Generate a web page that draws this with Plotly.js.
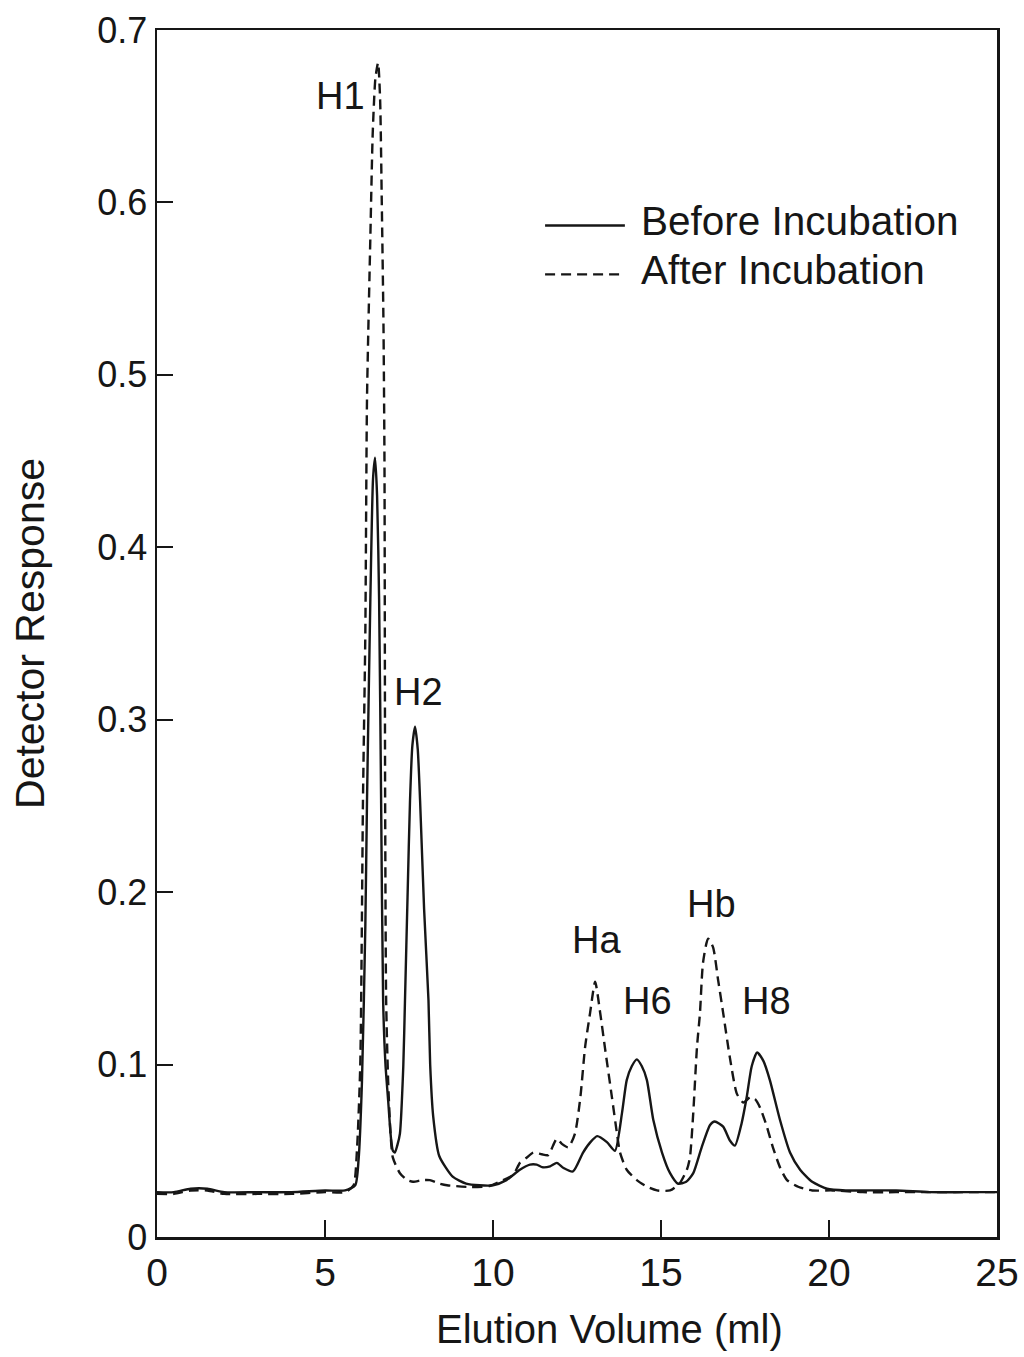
<!DOCTYPE html>
<html>
<head>
<meta charset="utf-8">
<script src="https://cdn.plot.ly/plotly-3.0.1.min.js"></script>
<style>html,body{margin:0;padding:0;background:#fff;}#chart{width:1024px;height:1357px;}</style>
</head>
<body>
<div id="chart"></div>
<script>
// Before Incubation (solid)
const beforeX = [0, 0.5, 1.0, 1.5, 2.0, 3.0, 4.0, 5.0, 5.6, 5.9, 6.0, 6.1, 6.2, 6.25, 6.35, 6.43, 6.49, 6.55, 6.61, 6.67, 6.73, 6.8, 6.88, 6.96, 7.02, 7.08, 7.15, 7.23, 7.33, 7.38, 7.46, 7.53, 7.6, 7.68, 7.76, 7.83, 7.95, 8.08, 8.13, 8.22, 8.4, 8.8, 9.2, 9.6, 10.0, 10.4, 10.8, 11.1, 11.3, 11.46, 11.7, 11.9, 12.1, 12.38, 12.68, 12.9, 13.1, 13.39, 13.63, 13.84, 13.98, 14.13, 14.28, 14.43, 14.58, 14.77, 15.03, 15.27, 15.5, 15.75, 15.96, 16.21, 16.46, 16.6, 16.85, 17.05, 17.2, 17.4, 17.55, 17.7, 17.86, 18.05, 18.24, 18.54, 18.84, 19.14, 19.5, 19.94, 20.5, 21, 22, 23, 24, 25];
const beforeY = [0.026, 0.026, 0.028, 0.028, 0.026, 0.026, 0.026, 0.027, 0.027, 0.030, 0.045, 0.09, 0.18, 0.253, 0.37, 0.44, 0.452, 0.43, 0.37, 0.253, 0.137, 0.10, 0.079, 0.058, 0.050, 0.049, 0.053, 0.060, 0.099, 0.137, 0.20, 0.253, 0.285, 0.296, 0.283, 0.253, 0.19, 0.137, 0.10, 0.07, 0.047, 0.035, 0.031, 0.030, 0.030, 0.033, 0.039, 0.042, 0.042, 0.0405, 0.041, 0.043, 0.040, 0.038, 0.049, 0.055, 0.0585, 0.055, 0.050, 0.072, 0.091, 0.099, 0.103, 0.099, 0.091, 0.068, 0.049, 0.037, 0.031, 0.032, 0.037, 0.052, 0.065, 0.067, 0.064, 0.056, 0.053, 0.066, 0.081, 0.099, 0.107, 0.102, 0.091, 0.068, 0.049, 0.039, 0.032, 0.028, 0.027, 0.027, 0.027, 0.026, 0.026, 0.026];

// After Incubation (dashed)
const afterX = [0, 0.5, 1.0, 1.5, 2.0, 3.0, 4.0, 5.0, 5.6, 5.85, 5.95, 6.05, 6.13, 6.2, 6.25, 6.35, 6.42, 6.5, 6.58, 6.64, 6.69, 6.74, 6.77, 6.79, 6.82, 6.88, 6.95, 7.02, 7.23, 7.45, 7.62, 7.9, 8.12, 8.4, 8.63, 9.3, 9.9, 10.3, 10.6, 10.8, 11.0, 11.2, 11.45, 11.64, 11.9, 12.05, 12.24, 12.44, 12.6, 12.74, 12.89, 13.04, 13.19, 13.33, 13.54, 13.69, 13.78, 13.98, 14.28, 14.6, 14.88, 15.27, 15.55, 15.77, 15.86, 15.96, 16.07, 16.16, 16.25, 16.4, 16.55, 16.7, 16.85, 17.05, 17.26, 17.45, 17.65, 17.8, 17.95, 18.15, 18.33, 18.55, 18.75, 19.1, 19.5, 20.1, 21, 22, 23, 24, 25];
const afterY = [0.025, 0.025, 0.027, 0.027, 0.025, 0.025, 0.025, 0.026, 0.026, 0.030, 0.05, 0.10, 0.253, 0.35, 0.486, 0.58, 0.64, 0.672, 0.681, 0.66, 0.60, 0.53, 0.45, 0.253, 0.137, 0.09, 0.06, 0.046, 0.037, 0.033, 0.032, 0.033, 0.033, 0.031, 0.030, 0.029, 0.0296, 0.033, 0.036, 0.043, 0.046, 0.049, 0.048, 0.0475, 0.057, 0.054, 0.052, 0.060, 0.081, 0.110, 0.130, 0.148, 0.130, 0.110, 0.081, 0.060, 0.049, 0.039, 0.033, 0.029, 0.027, 0.027, 0.031, 0.039, 0.046, 0.072, 0.110, 0.130, 0.159, 0.173, 0.168, 0.149, 0.130, 0.104, 0.083, 0.078, 0.081, 0.080, 0.075, 0.064, 0.052, 0.040, 0.033, 0.029, 0.027, 0.027, 0.026, 0.026, 0.026, 0.026, 0.026];

const seriesNames = ["Before Incubation", "After Incubation"];

// Peak labels
const peakLabels = ["H1", "H2", "Ha", "H6", "Hb", "H8"];
const peakLabelX = [5.45, 7.77, 13.07, 14.6, 16.5, 18.15];
const peakLabelY = [0.662, 0.316, 0.172, 0.137, 0.193, 0.137];

const xTicks = [0, 5, 10, 15, 20, 25];
const yTicks = [0, 0.1, 0.2, 0.3, 0.4, 0.5, 0.6, 0.7];
const yTickText = ["0", "0.1", "0.2", "0.3", "0.4", "0.5", "0.6", "0.7"];
const xTitle = "Elution Volume (ml)";
const yTitle = "Detector Response";

const FONT = '"Liberation Sans", Arial, Helvetica, sans-serif';
const INK = '#161616';

const traces = [
  {x: beforeX, y: beforeY, name: seriesNames[0], type: 'scatter', mode: 'lines',
   line: {color: INK, width: 2.4, shape: 'spline', smoothing: 0.6}},
  {x: afterX, y: afterY, name: seriesNames[1], type: 'scatter', mode: 'lines',
   line: {color: INK, width: 2.4, dash: '10px,6px', shape: 'spline', smoothing: 0.6}}
];

const annotations = peakLabels.map((t, i) => ({
  x: peakLabelX[i], y: peakLabelY[i], xref: 'x', yref: 'y', text: t, showarrow: false,
  font: {family: FONT, size: 38, color: INK}, xanchor: 'center', yanchor: 'middle'
}));

// custom legend
const legY = [0.842, 0.801];
seriesNames.forEach((n, i) => {
  annotations.push({x: 0.574, y: legY[i], xref: 'paper', yref: 'paper', text: n, showarrow: false,
    xanchor: 'left', yanchor: 'middle', font: {family: FONT, size: 40.5, color: INK}});
});
// x-axis title (placed off-centre as in the reference)
annotations.push({x: 0.539, y: -0.0765, xref: 'paper', yref: 'paper', text: xTitle, showarrow: false,
  xanchor: 'center', yanchor: 'middle', font: {family: FONT, size: 40, color: INK}});

const shapes = [
  {type: 'line', xref: 'paper', yref: 'paper', x0: 0.462, x1: 0.557, y0: 0.838, y1: 0.838,
   line: {color: INK, width: 2.4}},
  {type: 'line', xref: 'paper', yref: 'paper', x0: 0.462, x1: 0.557, y0: 0.7975, y1: 0.7975,
   line: {color: INK, width: 2.4, dash: '10px,6px'}}
];

const layout = {
  width: 1024, height: 1357,
  margin: {l: 157, r: 27, t: 30, b: 120, pad: 0},
  paper_bgcolor: '#fff', plot_bgcolor: '#fff',
  showlegend: false,
  font: {family: FONT, color: INK},
  xaxis: {
    range: [0, 25], tickvals: xTicks, ticktext: xTicks.map(String),
    ticks: 'inside', ticklen: 17, tickwidth: 2, tickcolor: INK,
    showline: true, linecolor: INK, linewidth: 2.5, mirror: true,
    showgrid: false, zeroline: false,
    tickfont: {family: FONT, size: 39, color: INK},
    automargin: false
  },
  yaxis: {
    range: [0, 0.7], tickvals: yTicks, ticktext: yTickText,
    ticks: 'inside', ticklen: 16, tickwidth: 2, tickcolor: INK,
    showline: true, linecolor: INK, linewidth: 2.5, mirror: true,
    showgrid: false, zeroline: false,
    tickfont: {family: FONT, size: 36, color: INK},
    title: {text: yTitle, font: {family: FONT, size: 41, color: INK}, standoff: 40},
    automargin: false
  },
  annotations: annotations,
  shapes: shapes
};

Plotly.newPlot('chart', traces, layout, {staticPlot: true, displayModeBar: false});
</script>
</body>
</html>
